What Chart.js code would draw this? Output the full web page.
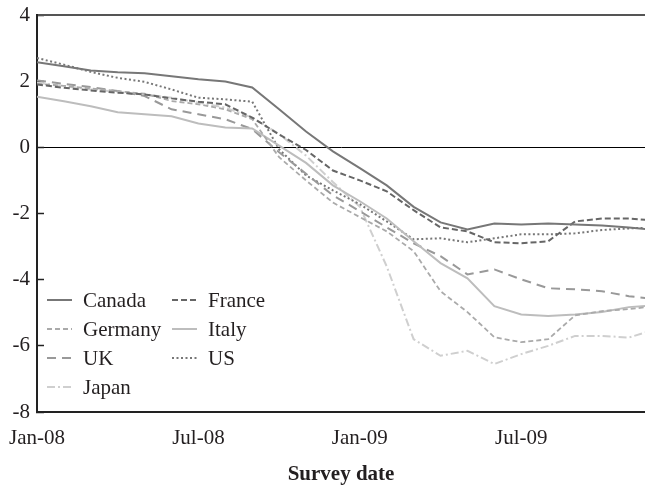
<!DOCTYPE html>
<html>
<head>
<meta charset="utf-8">
<script src="https://cdn.jsdelivr.net/npm/chart.js@4.4.1/dist/chart.umd.min.js"></script>
<style>
  html, body { margin: 0; padding: 0; background: #fff; }
</style>
</head>
<body>
<canvas id="chart" width="645" height="488"></canvas>
<script>
// survey months, Jan-08 .. Dec-09
const months = ['Jan-08','Feb-08','Mar-08','Apr-08','May-08','Jun-08','Jul-08','Aug-08','Sep-08','Oct-08','Nov-08','Dec-08',
                'Jan-09','Feb-09','Mar-09','Apr-09','May-09','Jun-09','Jul-09','Aug-09','Sep-09','Oct-09','Nov-09','Dec-09'];
const xTicks = [0, 6, 12, 18];
const yTicks = [-8, -6, -4, -2, 0, 2, 4];

// forecasts
const canada  = [2.57, 2.45, 2.32, 2.27, 2.24, 2.15, 2.06, 1.99, 1.81, 1.15, 0.48, -0.12, -0.63, -1.15, -1.8, -2.27, -2.48, -2.3, -2.33, -2.3, -2.33, -2.36, -2.42, -2.5];
const france  = [1.9, 1.8, 1.72, 1.65, 1.6, 1.48, 1.38, 1.3, 0.9, 0.39, -0.08, -0.7, -1.0, -1.33, -1.9, -2.42, -2.54, -2.87, -2.9, -2.84, -2.24, -2.15, -2.15, -2.22];
const germany = [1.92, 1.86, 1.78, 1.7, 1.62, 1.4, 1.3, 1.15, 0.85, -0.3, -1.0, -1.67, -2.11, -2.54, -3.14, -4.35, -4.98, -5.74, -5.89, -5.8, -5.08, -4.95, -4.89, -4.8];
const italy   = [1.53, 1.39, 1.24, 1.06, 1.0, 0.94, 0.72, 0.6, 0.57, 0.05, -0.47, -1.15, -1.63, -2.15, -2.84, -3.5, -3.96, -4.8, -5.05, -5.1, -5.05, -4.98, -4.83, -4.77];
const uk      = [2.02, 1.92, 1.82, 1.7, 1.55, 1.15, 1.0, 0.85, 0.55, -0.15, -0.8, -1.45, -1.93, -2.42, -2.9, -3.29, -3.84, -3.69, -3.99, -4.26, -4.29, -4.35, -4.5, -4.59];
const us      = [2.7, 2.5, 2.28, 2.1, 1.98, 1.75, 1.5, 1.45, 1.38, -0.06, -0.85, -1.3, -1.72, -2.24, -2.78, -2.75, -2.87, -2.75, -2.63, -2.63, -2.6, -2.5, -2.45, -2.42];
const japan   = [1.95, 1.85, 1.75, 1.68, 1.6, 1.5, 1.35, 1.2, 0.9, 0.4, -0.25, -1.05, -1.8, -3.6, -5.8, -6.3, -6.15, -6.55, -6.25, -6.0, -5.7, -5.7, -5.75, -5.5];

const serif = "'Liberation Serif', 'Times New Roman', serif";
const inkColor = '#231f20';

function series(label, values, color, dash, width) {
  return {
    label: label,
    data: values.map((v, i) => ({ x: i, y: v })),
    borderColor: color,
    borderWidth: width,
    borderDash: dash,
    pointRadius: 0,
    tension: 0,
    fill: false,
  };
}

// legend drawn inside the plot, two columns
const insideLegend = {
  id: 'insideLegend',
  afterDraw(chart) {
    const ctx = chart.ctx;
    const cols = [47, 172];
    const rows = [300, 329, 358, 387];
    ctx.save();
    ctx.font = '21px ' + serif;
    ctx.textBaseline = 'middle';
    ctx.fillStyle = inkColor;
    chart.data.datasets.forEach((ds, i) => {
      const x = cols[i % 2];
      const y = rows[Math.floor(i / 2)];
      ctx.strokeStyle = ds.borderColor;
      ctx.lineWidth = ds.borderWidth;
      ctx.setLineDash(ds.borderDash);
      ctx.beginPath();
      ctx.moveTo(x, y);
      ctx.lineTo(x + 25, y);
      ctx.stroke();
      ctx.setLineDash([]);
      ctx.fillText(ds.label, x + 36, y + 1);
    });
    ctx.restore();
  }
};

// keep tick label overflow from pushing the plot area around
function noLabelPadding(s) {
  s.paddingTop = 0;
  s.paddingBottom = 0;
  s.paddingLeft = 0;
  s.paddingRight = 0;
}

new Chart(document.getElementById('chart').getContext('2d'), {
  type: 'line',
  data: {
    datasets: [
      series('Canada', canada, '#777777', [], 2),
      series('France', france, '#666666', [6, 3], 2),
      series('Germany', germany, '#aaaaaa', [5, 3], 1.8),
      series('Italy', italy, '#bdbdbd', [], 2),
      series('UK', uk, '#999999', [9, 6], 2),
      series('US', us, '#777777', [2, 2.5], 2),
      series('Japan', japan, '#cfcfcf', [8, 3, 2, 3], 2),
    ],
  },
  options: {
    responsive: false,
    animation: false,
    layout: { padding: { top: 15, right: 0, bottom: 0, left: 0 } },
    plugins: {
      legend: { display: false },
      tooltip: { enabled: false },
    },
    scales: {
      x: {
        type: 'linear',
        position: 'bottom',
        min: 0,
        max: 22.6,
        afterBuildTicks: (s) => { s.ticks = xTicks.map(v => ({ value: v })); },
        afterFit: (s) => { s.height = 76; noLabelPadding(s); },
        ticks: {
          callback: (v) => months[v],
          font: { family: serif, size: 21 },
          color: inkColor,
          padding: 14,
          maxRotation: 0,
          autoSkip: false,
        },
        grid: { display: false, drawTicks: false },
        border: { display: true, color: '#222', width: 2 },
        title: {
          display: true,
          text: 'Survey date',
          font: { family: serif, size: 21, weight: 'bold' },
          color: inkColor,
          padding: { top: 0, bottom: 1 },
        },
      },
      top: {
        type: 'linear',
        axis: 'x',
        position: 'top',
        min: 0,
        max: 22.6,
        afterFit: (s) => { s.height = 0; noLabelPadding(s); },
        ticks: { display: false },
        grid: { display: false, drawTicks: false },
        border: { display: true, color: '#555', width: 2 },
      },
      y: {
        min: -8,
        max: 4,
        afterBuildTicks: (s) => { s.ticks = yTicks.map(v => ({ value: v })); },
        afterFit: (s) => { s.width = 37; noLabelPadding(s); },
        ticks: {
          font: { family: serif, size: 21 },
          color: inkColor,
          padding: 14,
        },
        grid: {
          color: (c) => (c.tick && c.tick.value === 0 ? '#000' : 'rgba(0,0,0,0)'),
          lineWidth: 1,
          tickLength: -7,
          tickColor: '#222',
          tickWidth: 1.5,
        },
        border: { color: '#222', width: 2 },
      },
    },
  },
  plugins: [insideLegend],
});
</script>
</body>
</html>
